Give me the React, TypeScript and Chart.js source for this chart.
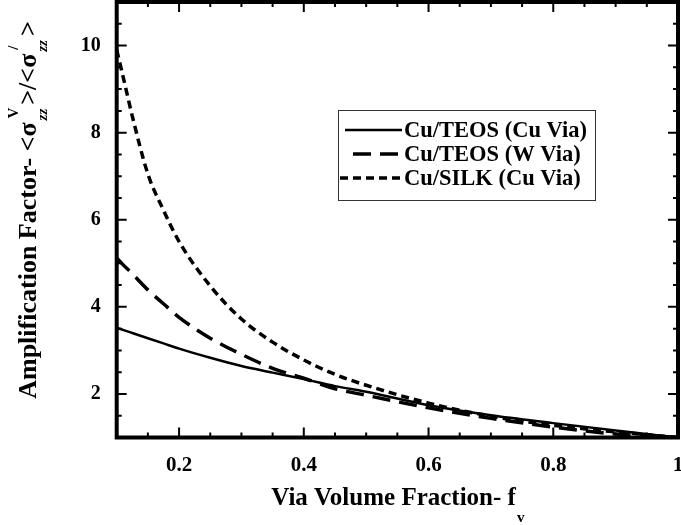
import React, { useEffect, useRef } from "react";
import { Chart, registerables } from "chart.js";
Chart.register(...registerables);

// ---- data ----
const xValues = [0.1, 0.11, 0.125, 0.15, 0.175, 0.2, 0.25, 0.3, 0.35, 0.4, 0.45, 0.5, 0.6, 0.7, 0.8, 0.9, 1.0];
const cuTeosCuVia = [3.52, 3.47, 3.4, 3.28, 3.16, 3.04, 2.83, 2.64, 2.49, 2.34, 2.18, 2.05, 1.74, 1.51, 1.33, 1.16, 1.0];
const cuTeosWVia = [5.12, 4.97, 4.76, 4.39, 4.07, 3.76, 3.28, 2.91, 2.59, 2.36, 2.12, 1.97, 1.68, 1.44, 1.24, 1.08, 1.0];
const cuSilkCuVia = [9.9, 9.3, 8.38, 7.05, 6.22, 5.5, 4.48, 3.72, 3.19, 2.78, 2.45, 2.2, 1.79, 1.49, 1.28, 1.13, 1.0];

const seriesLabels = ["Cu/TEOS (Cu Via)", "Cu/TEOS (W Via)", "Cu/SILK (Cu Via)"];

const xTicks = [0.2, 0.4, 0.6, 0.8, 1];
const yTicks = [2, 4, 6, 8, 10];
const xMinorStep = 0.05;
const yMinorStep = 0.5;

const xTitleMain = "Via Volume Fraction- f";
const xTitleSub = "v";

const FONT = "'Liberation Serif', 'Times New Roman', serif";

function drawYTitle(ctx: CanvasRenderingContext2D, cx: number, cy: number) {
  const main = `bold 26px ${FONT}`;
  const sub = `italic bold 15px ${FONT}`;
  const sup = `bold 15px ${FONT}`;
  type Seg = { t: string; font: string; stackSub?: string; stackSup?: string };
  const segs: Seg[] = [
    { t: "Amplification Factor- <σ", font: main },
    { t: "", font: main, stackSub: "zz", stackSup: "V" },
    { t: ">/<σ", font: main },
    { t: "", font: main, stackSub: "zz", stackSup: "/" },
    { t: ">", font: main },
  ];
  let total = 0;
  const widths: number[] = [];
  for (const s of segs) {
    let w = 0;
    if (s.t) {
      ctx.font = s.font;
      w = ctx.measureText(s.t).width;
    } else {
      ctx.font = sub;
      const w1 = ctx.measureText(s.stackSub || "").width;
      ctx.font = sup;
      const w2 = ctx.measureText(s.stackSup || "").width;
      w = Math.max(w1, w2) + 6;
    }
    widths.push(w);
    total += w;
  }
  ctx.save();
  ctx.translate(cx, cy);
  ctx.rotate(-Math.PI / 2);
  ctx.fillStyle = "#000";
  ctx.textBaseline = "alphabetic";
  ctx.textAlign = "left";
  let x = -total / 2;
  segs.forEach((s, i) => {
    if (s.t) {
      ctx.font = s.font;
      ctx.fillText(s.t, x, 0);
    } else {
      ctx.font = sub;
      ctx.fillText(s.stackSub || "", x + 2, 11);
      ctx.font = sup;
      ctx.fillText(s.stackSup || "", x + 4, -18);
    }
    x += widths[i];
  });
  ctx.restore();
}

const decorPlugin = {
  id: "decor",
  afterDraw(chart: any) {
    const { ctx, chartArea: a, scales } = chart;
    const xs = scales.x;
    const ys = scales.y;
    ctx.save();
    ctx.strokeStyle = "#000";
    ctx.lineCap = "butt";
    ctx.setLineDash([]);
    ctx.lineWidth = 2;
    const major = 10, minor = 5;
    for (let v = xs.min; v <= xs.max + 1e-9; v += xMinorStep) {
      const vv = Math.round(v * 1000) / 1000;
      const isMajor = xTicks.some((t) => Math.abs(t - vv) < 1e-6);
      const len = isMajor ? major : minor;
      const px = xs.getPixelForValue(vv);
      ctx.beginPath();
      ctx.moveTo(px, a.bottom);
      ctx.lineTo(px, a.bottom - len);
      ctx.moveTo(px, a.top);
      ctx.lineTo(px, a.top + len);
      ctx.stroke();
    }
    for (let v = ys.min; v <= ys.max + 1e-9; v += yMinorStep) {
      const isMajor = yTicks.some((t) => Math.abs(t - v) < 1e-6);
      const len = isMajor ? major : minor;
      const py = ys.getPixelForValue(v);
      ctx.beginPath();
      ctx.moveTo(a.left, py);
      ctx.lineTo(a.left + len, py);
      ctx.moveTo(a.right, py);
      ctx.lineTo(a.right - len, py);
      ctx.stroke();
    }
    ctx.lineWidth = 4;
    ctx.strokeRect(a.left, a.top, a.right - a.left, a.bottom - a.top);

    // legend
    const lx = 338, ly = 110, lw = 257, lh = 90;
    ctx.fillStyle = "#fff";
    ctx.fillRect(lx, ly, lw, lh);
    ctx.lineWidth = 1;
    ctx.strokeStyle = "#333";
    ctx.strokeRect(lx + 0.5, ly + 0.5, lw, lh);
    const rows = [130, 154, 178];
    const offsets = [0, 19, 0];
    const starts = [345, 345, 340];
    chart.data.datasets.forEach((ds: any, i: number) => {
      const y = rows[i];
      ctx.strokeStyle = "#000";
      ctx.lineWidth = ds.borderWidth;
      ctx.setLineDash(ds.borderDash || []);
      ctx.lineDashOffset = offsets[i];
      ctx.beginPath();
      ctx.moveTo(starts[i], y);
      ctx.lineTo(402, y);
      ctx.stroke();
      ctx.setLineDash([]);
      ctx.lineDashOffset = 0;
      ctx.fillStyle = "#000";
      ctx.font = `bold 22.5px ${FONT}`;
      ctx.textBaseline = "middle";
      ctx.textAlign = "left";
      ctx.fillText(ds.label, 404, y + 1);
    });

    // x title
    ctx.fillStyle = "#000";
    ctx.textBaseline = "alphabetic";
    ctx.textAlign = "left";
    ctx.font = `bold 25px ${FONT}`;
    const mw = ctx.measureText(xTitleMain).width;
    ctx.font = `bold 15px ${FONT}`;
    const sw = ctx.measureText(xTitleSub).width;
    const cx = (a.left + a.right) / 2;
    const x0 = cx - (mw + sw) / 2;
    ctx.font = `bold 25px ${FONT}`;
    ctx.fillText(xTitleMain, x0, 505);
    ctx.font = `bold 15px ${FONT}`;
    ctx.fillText(xTitleSub, x0 + mw + 1, 522);

    drawYTitle(ctx, 36, 210);
    ctx.restore();
  },
};

const zeroPad = (s: any) => {
  s.paddingTop = 0;
  s.paddingBottom = 0;
  s.paddingLeft = 0;
  s.paddingRight = 0;
};

export default function App() {
  const ref = useRef<HTMLCanvasElement | null>(null);
  useEffect(() => {
    if (!ref.current) return;
    const mk = (ys: number[]) => xValues.map((x, i) => ({ x, y: ys[i] }));
    const chart = new Chart(ref.current, {
      type: "line",
      data: {
        datasets: [
          { label: seriesLabels[0], data: mk(cuTeosCuVia), borderColor: "#000", borderWidth: 2.5, borderDash: [], pointRadius: 0, fill: false, cubicInterpolationMode: "monotone" },
          { label: seriesLabels[1], data: mk(cuTeosWVia), borderColor: "#000", borderWidth: 3.5, borderDash: [18, 9], pointRadius: 0, fill: false, cubicInterpolationMode: "monotone" },
          { label: seriesLabels[2], data: mk(cuSilkCuVia), borderColor: "#000", borderWidth: 3.5, borderDash: [8, 5], pointRadius: 0, fill: false, cubicInterpolationMode: "monotone" },
        ] as any,
      },
      options: {
        responsive: false,
        animation: false,
        devicePixelRatio: 1,
        layout: { padding: { top: 2, right: 3, left: 0, bottom: 0 } },
        plugins: { legend: { display: false }, tooltip: { enabled: false } },
        scales: {
          x: {
            type: "linear",
            min: 0.1,
            max: 1.0,
            grid: { display: false, drawTicks: false },
            border: { display: false },
            afterBuildTicks: (s: any) => { s.ticks = xTicks.map((v) => ({ value: v })); },
            afterFit: (s: any) => { s.height = 87.5; zeroPad(s); },
            ticks: {
              padding: 15,
              color: "#000",
              font: { family: FONT, size: 21, weight: "bold" },
              maxRotation: 0,
              autoSkip: false,
              callback: (v: any) => String(v),
            },
          },
          y: {
            type: "linear",
            min: 1,
            max: 11,
            grid: { display: false, drawTicks: false },
            border: { display: false },
            afterBuildTicks: (s: any) => { s.ticks = yTicks.map((v) => ({ value: v })); },
            afterFit: (s: any) => { s.width = 116.7; zeroPad(s); },
            ticks: {
              padding: 16,
              color: "#000",
              font: { family: FONT, size: 20, weight: "bold" },
              autoSkip: false,
              callback: (v: any) => String(v),
            },
          },
        },
      } as any,
      plugins: [decorPlugin],
    });
    return () => chart.destroy();
  }, []);
  return (
    <div style={{ position: "absolute", left: 0, top: 0, width: 681, height: 525, background: "#fff" }}>
      <canvas ref={ref} width={681} height={525} style={{ display: "block", width: 681, height: 525 }} />
    </div>
  );
}
